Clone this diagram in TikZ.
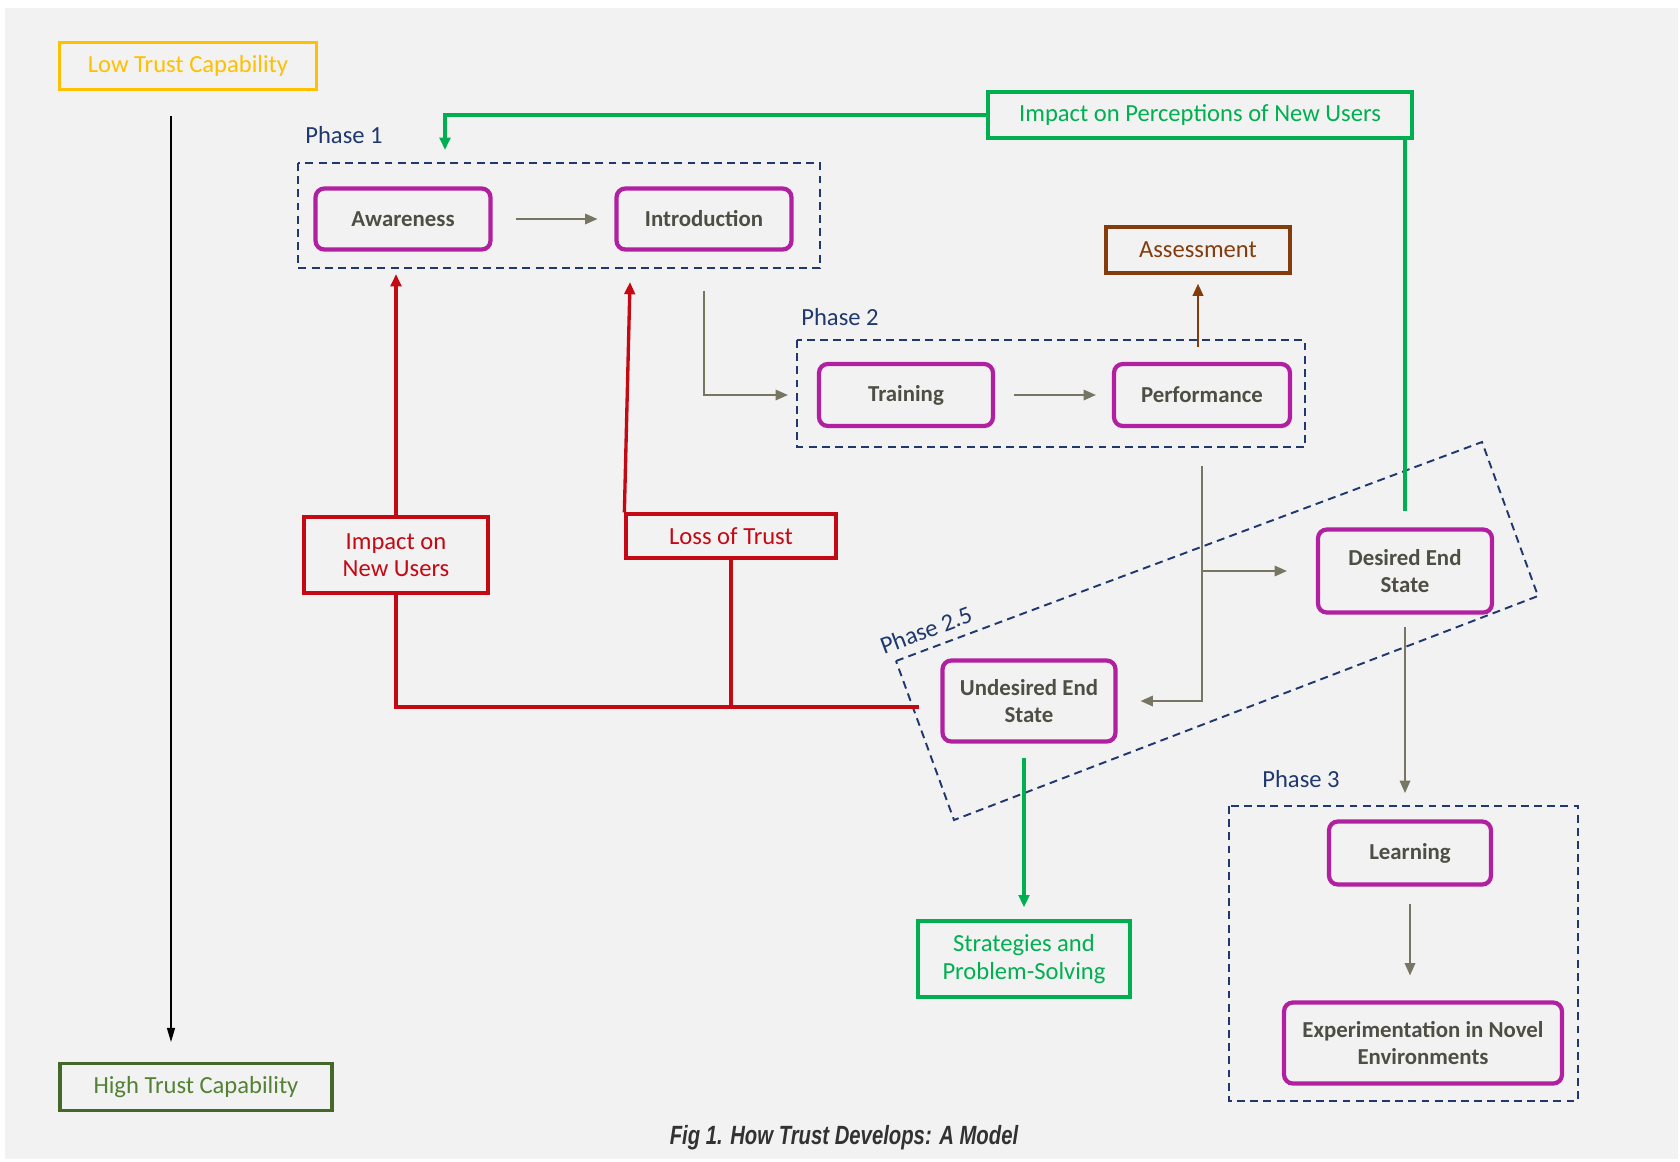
\documentclass[tikz,border=0pt]{standalone}
\usepackage{fontspec}
\setmainfont{Carlito}
\newfontfamily\captionfont{Liberation Sans}
\usepackage{xcolor}
\usetikzlibrary{arrows.meta, positioning, calc}

\definecolor{bggray}{RGB}{242,242,242}
\definecolor{stagepurple}{RGB}{176,32,160}
\definecolor{stagetext}{RGB}{78,78,68}
\definecolor{navy}{RGB}{31,56,110}
\definecolor{flowgray}{RGB}{118,118,98}
\definecolor{lowgold}{RGB}{255,192,0}
\definecolor{highgreen}{RGB}{84,130,53}
\definecolor{brightgreen}{RGB}{0,176,80}
\definecolor{lossred}{RGB}{196,8,20}
\definecolor{assessbrown}{RGB}{132,60,12}
\definecolor{captiongray}{RGB}{50,50,50}

\begin{document}
\begin{tikzpicture}[x=0.02cm, y=-0.02cm,
    stage/.style={draw=stagepurple, line width=2.4pt, rounded corners=5pt, text=stagetext,
      font=\bfseries\fontsize{13}{15.5}\selectfont, align=center, inner sep=0pt},
    tag/.style={draw, line width=1.9pt, inner sep=0pt, align=center,
      font=\fontsize{14}{15.5}\selectfont},
    phasebox/.style={draw=navy, line width=1.1pt, dash pattern=on 4.5pt off 3pt},
    phaselabel/.style={text=navy, font=\fontsize{14}{16}\selectfont, inner sep=0pt},
    flow/.style={draw=flowgray, line width=0.9pt, -{Triangle[length=7pt, width=6pt]}},
    greenline/.style={draw=brightgreen, line width=1.9pt},
    redline/.style={draw=lossred, line width=1.9pt},
  ]
  \useasboundingbox (0,0) rectangle (1680,1161);
  \fill[bggray] (5,8) rectangle (1678,1159);

  % trust scale
  \node[tag, draw=lowgold, text=lowgold, minimum width=5.14cm, minimum height=0.94cm] (low) at (188,66) {Low Trust Capability};
  \node[tag, draw=highgreen!80!black, text=highgreen, minimum width=5.44cm, minimum height=0.94cm] (high) at (196,1087) {High Trust Capability};
  \coordinate (scaletop) at (171,116);
  \coordinate (scalebot) at (171,1042);
  \draw[line width=0.9pt, -{Triangle[length=8pt, width=4.5pt]}] (scaletop) -- (scalebot);

  % phase 1
  \draw[phasebox] (298,163) rectangle (820,268);
  \node[phaselabel, anchor=west] (p1label) at (305,135) {Phase 1};
  \node[stage, minimum width=3.5cm, minimum height=1.22cm] (aware) at (403,219) {Awareness};
  \node[stage, minimum width=3.5cm, minimum height=1.22cm] (intro) at (704,219) {Introduction};

  % phase 2
  \draw[phasebox] (797,340) rectangle (1305,447);
  \node[phaselabel, anchor=west] (p2label) at (801,317) {Phase 2};
  \node[stage, minimum width=3.48cm, minimum height=1.24cm] (train) at (906,395) {Training};
  \node[stage, minimum width=3.52cm, minimum height=1.24cm] (perf) at (1202,395) {Performance};
  \node[tag, draw=assessbrown, text=assessbrown, minimum width=3.68cm, minimum height=0.92cm] (assess) at (1198,250) {Assessment};

  % phase 2.5
  \draw[phasebox] (896,661) -- (1482,442) -- (1538,596) -- (954,820) -- cycle;
  \node[phaselabel, rotate=20.5] (p25label) at (926,630) {Phase 2.5};
  \node[stage, minimum width=3.48cm, minimum height=1.66cm] (desired) at (1405,571) {Desired End\\State};
  \node[stage, minimum width=3.46cm, minimum height=1.62cm] (undes) at (1029,701) {Undesired End\\State};

  % phase 3
  \draw[phasebox] (1229,806) rectangle (1578,1101);
  \node[phaselabel, anchor=west] (p3label) at (1262,779) {Phase 3};
  \node[stage, minimum width=3.24cm, minimum height=1.26cm] (learn) at (1410,853) {Learning};
  \node[stage, minimum width=5.56cm, minimum height=1.62cm] (exper) at (1423,1043) {Experimentation in Novel\\Environments};

  % feedback boxes
  \node[tag, draw=brightgreen, text=brightgreen, minimum width=8.48cm, minimum height=0.92cm] (percep) at (1200,115) {Impact on Perceptions of New Users};
  \node[tag, draw=brightgreen, text=brightgreen, minimum width=4.24cm, minimum height=1.52cm] (strat) at (1024,959) {Strategies and\\Problem-Solving};
  \node[tag, draw=lossred, text=lossred, minimum width=3.68cm, minimum height=1.52cm] (impact) at (396,555) {Impact on\\New Users};
  \node[tag, draw=lossred, text=lossred, minimum width=4.2cm, minimum height=0.88cm] (loss) at (731,536) {Loss of Trust};

  % main flow
  \draw[flow, shorten <=0.46cm, shorten >=0.34cm] (aware) -- (intro);
  \draw[flow, shorten <=0.78cm, shorten >=0.58cm] (intro.south) |- (train.west);
  \draw[flow, shorten <=0.38cm, shorten >=0.32cm] (train) -- (perf);
  \draw[assessbrown, line width=1.4pt, -{Triangle[length=7pt, width=6pt]}, shorten <=0.3cm, shorten >=0.18cm] (assess.south |- perf.north) -- (assess.south);
  \draw[flow, shorten <=0.76cm, shorten >=0.46cm] (perf.south) |- (undes.east);
  \coordinate (split) at (perf.south |- desired.west);
  \draw[flow, shorten >=0.58cm] (split) -- (desired.west);
  \coordinate (p3in) at (1405,793);
  \draw[flow, shorten <=0.24cm] (desired.south) -- (p3in);
  \draw[flow, shorten <=0.34cm, shorten >=0.5cm] (learn.south) -- (learn.south |- exper.north);

  % green feedback
  \coordinate (p1in) at (445,150);
  \draw[greenline, shorten >=0.32cm] (percep.south -| desired.north) -- (desired.north);
  \draw[greenline, -{Triangle[length=7pt, width=6pt]}] (percep.west) -| (p1in);
  \draw[greenline, -{Triangle[length=7pt, width=6pt]}, shorten <=0.28cm, shorten >=0.24cm] (strat.north |- undes.south) -- (strat.north);

  % red feedback
  \coordinate (redstart) at (919,707);
  \coordinate (awarein) at (396,274);
  \coordinate (introin) at (630,282);
  \draw[redline] (redstart) -| (impact.south);
  \draw[redline] (loss.south) -- (loss.south |- redstart);
  \draw[redline, -{Triangle[length=7pt, width=6pt]}] (impact.north) -- (awarein);
  \draw[redline, -{Triangle[length=7pt, width=6pt]}] (loss.north west) -- (introin);

  \node[text=captiongray, font=\captionfont\bfseries\itshape\fontsize{15}{17}\selectfont] (caption) at (844,1138) {\scalebox{0.77}[1]{Fig 1. How Trust Develops: A Model}};
\end{tikzpicture}
\end{document}
